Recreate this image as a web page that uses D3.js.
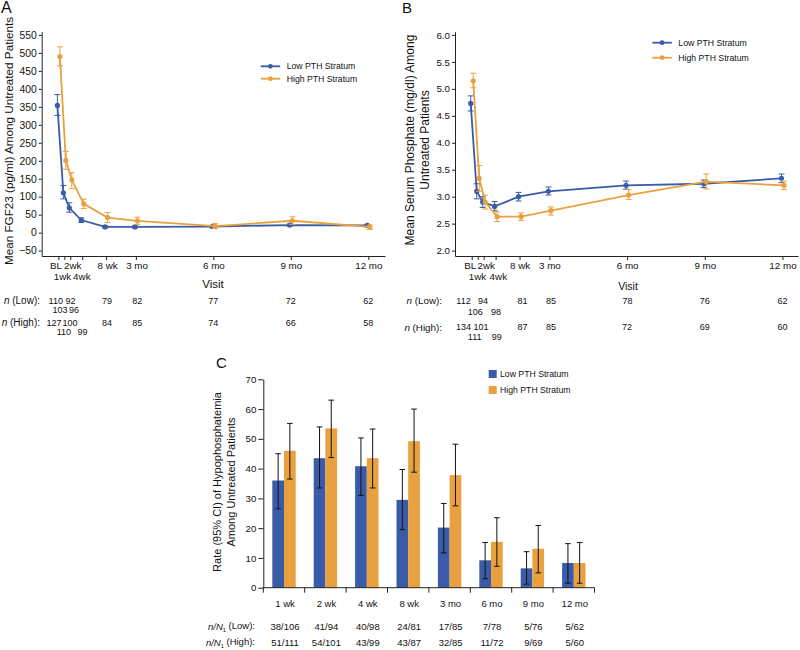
<!DOCTYPE html>
<html><head><meta charset="utf-8">
<script src="https://cdn.jsdelivr.net/npm/d3@7"></script>
<style>
body{margin:0;background:#fff}
text{font-family:"Liberation Sans",Arial,Helvetica,sans-serif;fill:#111}
</style>
</head><body>
<svg id="chart" width="800" height="650"></svg>
<script>
// ---------------- DATA ----------------
const visitWeeks  = [0, 1, 2, 4, 8, 13, 26, 39, 52];
const visitLabels = ["BL", "1wk", "2wk", "4wk", "8 wk", "3 mo", "6 mo", "9 mo", "12 mo"];
const seriesNames = ["Low PTH Stratum", "High PTH Stratum"];

const fgfLowMean   = [354, 111, 69, 35, 16, 16, 17, 21, 20];
const fgfLowLower  = [326, 94, 57, 28, 13, 13, 14, 18, 17];
const fgfLowUpper  = [384, 131, 83, 41, 19, 19, 20, 24, 23];
const fgfHighMean  = [490, 201, 147, 80, 42, 33, 18, 33, 16];
const fgfHighLower = [464, 176, 122, 67, 28, 23, 11, 23, 9];
const fgfHighUpper = [517, 226, 167, 93, 56, 43, 25, 44, 21];
const fgfNLow  = [110, 103, 92, 96, 79, 82, 77, 72, 62];
const fgfNHigh = [127, 110, 100, 99, 84, 85, 74, 66, 58];
const fgfYTicks = [-50, 0, 50, 100, 150, 200, 250, 300, 350, 400, 450, 500, 550];

const phosLowMean   = [4.73, 3.10, 2.90, 2.82, 3.00, 3.10, 3.21, 3.24, 3.34];
const phosLowLower  = [4.59, 2.96, 2.80, 2.74, 2.92, 3.03, 3.14, 3.17, 3.26];
const phosLowUpper  = [4.87, 3.24, 3.00, 2.91, 3.08, 3.18, 3.29, 3.31, 3.42];
const phosHighMean  = [5.15, 3.34, 2.90, 2.63, 2.63, 2.74, 3.03, 3.28, 3.21];
const phosHighLower = [5.02, 3.10, 2.77, 2.54, 2.56, 2.66, 2.95, 3.14, 3.13];
const phosHighUpper = [5.29, 3.58, 3.03, 2.72, 2.70, 2.81, 3.13, 3.42, 3.29];
const phosNLow  = [112, 106, 94, 98, 81, 85, 78, 76, 62];
const phosNHigh = [134, 111, 101, 99, 87, 85, 72, 69, 60];
const phosYTicks = [2.0, 2.5, 3.0, 3.5, 4.0, 4.5, 5.0, 5.5, 6.0];

const rateCategories = ["1 wk", "2 wk", "4 wk", "8 wk", "3 mo", "6 mo", "9 mo", "12 mo"];
const rateLow       = [36.0, 43.5, 40.8, 29.5, 20.2, 9.2, 6.5, 8.3];
const rateLowLower  = [26.5, 33.5, 31.0, 19.5, 11.7, 3.0, 1.2, 1.5];
const rateLowUpper  = [45.0, 54.0, 50.3, 39.7, 28.3, 15.2, 12.1, 14.8];
const rateHigh      = [46.0, 53.5, 43.5, 49.2, 37.8, 15.4, 13.1, 8.3];
const rateHighLower = [36.5, 43.7, 33.5, 38.8, 27.5, 7.2, 5.0, 1.5];
const rateHighUpper = [55.2, 63.0, 53.3, 60.0, 48.2, 23.5, 20.9, 15.2];
const fracLow  = ["38/106", "41/94", "40/98", "24/81", "17/85", "7/78", "5/76", "5/62"];
const fracHigh = ["51/111", "54/101", "43/99", "43/87", "32/85", "11/72", "9/69", "5/60"];
const rateYTicks = [0, 10, 20, 30, 40, 50, 60, 70];

// ---------------- STYLE ----------------
const BLUE = "#3a5ca8", ORANGE = "#e9a13f";
const FONT = '"Liberation Sans",Arial,Helvetica,sans-serif';
const svg = d3.select("#chart");

function nLabel(g, x, y, who, size, sub) {
  const t = g.append("text").attr("x", x).attr("y", y).attr("dy", "0.35em")
    .attr("text-anchor", "end").style("font-size", size + "px");
  if (sub) {
    t.append("tspan").style("font-style", "italic").text("n/N");
    t.append("tspan").style("font-size", (size * 0.6) + "px").attr("dy", "0.3em").text("1");
    t.append("tspan").attr("dy", "-0.3em").text(" (" + who + "):");
  } else {
    t.append("tspan").style("font-style", "italic").text("n");
    t.append("tspan").text(" (" + who + "):");
  }
}

function linePanel(cfg) {
  const g = svg.append("g");
  const x = d3.scaleLinear().domain(cfg.xDomain).range(cfg.xRange);
  const y = d3.scaleLinear().domain(cfg.yDomain).range(cfg.yRange);
  const axisY = cfg.yRange[0];

  const ya = g.append("g").attr("transform", `translate(${cfg.xRange[0]},0)`)
    .call(d3.axisLeft(y).tickValues(cfg.yTicks).tickFormat(cfg.yFormat).tickSize(3).tickPadding(2).tickSizeOuter(0));
  ya.selectAll("text").style("font-size", cfg.yTickFont + "px").style("font-family", FONT).attr("fill", "#111");
  ya.selectAll("line,path").attr("stroke", "#222");

  const xa = g.append("g").attr("transform", `translate(0,${axisY})`)
    .call(d3.axisBottom(x).tickValues(visitWeeks).tickFormat((d, i) => visitLabels[i]).tickSize(4).tickSizeOuter(0));
  xa.selectAll("line,path").attr("stroke", "#222");
  xa.selectAll("text").style("font-size", cfg.xTickFont + "px").style("font-family", FONT).attr("fill", "#111")
    .attr("dy", "0.35em")
    .attr("y", (d, i) => (i === 1 || i === 3) ? cfg.tickRow2 : cfg.tickRow1)
    .attr("dx", (d, i) => cfg.tickDx[i]);

  g.append("text").attr("x", cfg.visitX).attr("y", cfg.visitY).attr("dy", "0.35em")
    .attr("text-anchor", "middle").style("font-size", cfg.visitFont + "px").text("Visit");

  cfg.yLabel.forEach((line, k) => {
    g.append("text").attr("transform", `translate(${cfg.yLabelX[k]},${cfg.yLabelY}) rotate(-90)`)
      .attr("text-anchor", "middle").style("font-size", cfg.yLabelFont + "px").text(line);
  });

  g.append("text").attr("x", cfg.letterX).attr("y", cfg.letterY).style("font-size", cfg.letterFont + "px").text(cfg.letter);

  const series = [
    { mean: cfg.lowMean, lo: cfg.lowLower, hi: cfg.lowUpper, color: BLUE, off: -1 },
    { mean: cfg.highMean, lo: cfg.highLower, hi: cfg.highUpper, color: ORANGE, off: 1.5 }
  ];
  series.forEach(s => {
    const pts = visitWeeks.map((w, i) => ({ x: x(w) + s.off, m: s.mean[i], lo: s.lo[i], hi: s.hi[i] }));
    const eb = g.append("g").attr("stroke", s.color).attr("stroke-width", 1).attr("fill", "none");
    pts.forEach(p => {
      eb.append("line").attr("x1", p.x).attr("x2", p.x).attr("y1", y(p.lo)).attr("y2", y(p.hi));
      eb.append("line").attr("x1", p.x - 3).attr("x2", p.x + 3).attr("y1", y(p.lo)).attr("y2", y(p.lo));
      eb.append("line").attr("x1", p.x - 3).attr("x2", p.x + 3).attr("y1", y(p.hi)).attr("y2", y(p.hi));
    });
    g.append("path").datum(pts).attr("fill", "none").attr("stroke", s.color).attr("stroke-width", 1.8)
      .attr("d", d3.line().x(p => p.x).y(p => y(p.m)));
    g.selectAll(null).data(pts).enter().append("circle")
      .attr("cx", p => p.x).attr("cy", p => y(p.m)).attr("r", 2.6).attr("fill", s.color);
  });

  [BLUE, ORANGE].forEach((c, k) => {
    const ly = cfg.legendY[k];
    g.append("line").attr("x1", cfg.legendX).attr("x2", cfg.legendX + 19.5).attr("y1", ly).attr("y2", ly)
      .attr("stroke", c).attr("stroke-width", 1.8);
    g.append("circle").attr("cx", cfg.legendX + 9.7).attr("cy", ly).attr("r", 2.4).attr("fill", c);
    g.append("text").attr("x", cfg.legendX + 26).attr("y", ly).attr("dy", "0.35em")
      .style("font-size", "8.7px").text(seriesNames[k]);
  });

  nLabel(g, cfg.nLabelX, cfg.nRows[0], "Low", cfg.nLabFont, false);
  nLabel(g, cfg.nLabelX, cfg.nRows[2], "High", cfg.nLabFont, false);
  [[cfg.nLow, cfg.nRows[0], cfg.nRows[1], cfg.nLowDx], [cfg.nHigh, cfg.nRows[2], cfg.nRows[3], cfg.nHighDx]].forEach(([vals, r1, r2, dx]) => {
    g.selectAll(null).data(vals).enter().append("text")
      .attr("x", (d, i) => x(visitWeeks[i]) + dx[i])
      .attr("y", (d, i) => (i === 1 || i === 3) ? r2 : r1)
      .attr("dy", "0.35em").attr("text-anchor", "middle")
      .style("font-size", cfg.nFont + "px").text(d => d);
  });
}

// Panel A
linePanel({
  letter: "A", letterX: 1, letterY: 13, letterFont: 16,
  xDomain: [-2.8, 54.8], xRange: [41.7, 385],
  yDomain: [-65, 559], yRange: [256, 31.7], yTicks: fgfYTicks, yFormat: d3.format("d"),
  yTickFont: 10.3, xTickFont: 9.8, tickRow1: 10, tickRow2: 20.7, tickDx: [-3, -2.3, 2, -0.9, 1, 0.7, 0, 0, 0],
  visitX: 213, visitY: 283.5, visitFont: 11.5,
  yLabel: ["Mean FGF23 (pg/ml) Among Untreated Patients"], yLabelX: [13], yLabelY: 141, yLabelFont: 11.7,
  lowMean: fgfLowMean, lowLower: fgfLowLower, lowUpper: fgfLowUpper,
  highMean: fgfHighMean, highLower: fgfHighLower, highUpper: fgfHighUpper,
  legendX: 260.7, legendY: [66.3, 78.7],
  nLabelX: 40, nLabFont: 10, nFont: 9, nRows: [300.7, 310.2, 322.5, 331.8],
  nLow: fgfNLow, nHigh: fgfNHigh,
  nLowDx: [-2.6, -4.3, 0.3, -8.1, 1, 1.5, 0, 0, 0],
  nHighDx: [-4.3, -0.5, -0.2, 0.2, 1, 1.5, 0, 0, 0]
});

// Panel B
linePanel({
  letter: "B", letterX: 402, letterY: 13, letterFont: 15,
  xDomain: [-2.8, 54.6], xRange: [455, 798],
  yDomain: [1.9, 6.06], yRange: [256, 31.7], yTicks: phosYTicks, yFormat: d3.format(".1f"),
  yTickFont: 9.8, xTickFont: 9.8, tickRow1: 9.5, tickRow2: 20.7, tickDx: [-2, -0.7, 2, 2.2, 0, 0, 0, 0, 0],
  visitX: 628, visitY: 286, visitFont: 10.5,
  yLabel: ["Mean Serum Phosphate (mg/dl) Among", "Untreated Patients"], yLabelX: [414, 429], yLabelY: 140, yLabelFont: 12,
  lowMean: phosLowMean, lowLower: phosLowLower, lowUpper: phosLowUpper,
  highMean: phosHighMean, highLower: phosHighLower, highUpper: phosHighUpper,
  legendX: 652.3, legendY: [42.7, 57.7],
  nLabelX: 442, nLabFont: 9.8, nFont: 9, nRows: [300.7, 311.5, 327.3, 337.3],
  nLow: phosNLow, nHigh: phosNHigh,
  nLowDx: [-8.2, -2.4, -0.7, 0.4, 3, 1.5, 0.5, 0, 0],
  nHighDx: [-8.2, -3, -2.7, 1.1, 3, 1.5, 0, 0, 0]
});

// Panel C
(function () {
  const g = svg.append("g");
  const x0 = d3.scaleBand().domain(rateCategories).range([263.3, 594.5]).padding(0);
  const bw = x0.bandwidth();
  const x1 = d3.scaleBand().domain(["low", "high"]).range([bw * 0.2175, bw * 0.7825]).padding(0);
  const y = d3.scaleLinear().domain([0, 70]).range([587.7, 379.3]);

  const ya = g.append("g").attr("transform", "translate(263.3,0)")
    .call(d3.axisLeft(y).tickValues(rateYTicks).tickSize(5).tickPadding(2).tickSizeOuter(0));
  ya.selectAll("text").style("font-size", "9.7px").style("font-family", FONT).attr("fill", "#111");
  ya.selectAll("line,path").attr("stroke", "#222");

  const groups = [
    { key: "low", v: rateLow, lo: rateLowLower, hi: rateLowUpper, c: BLUE },
    { key: "high", v: rateHigh, lo: rateHighLower, hi: rateHighUpper, c: ORANGE }
  ];
  groups.forEach(s => {
    g.selectAll(null).data(rateCategories).enter().append("rect")
      .attr("x", (d) => x0(d) + x1(s.key)).attr("width", x1.bandwidth())
      .attr("y", (d, i) => y(s.v[i])).attr("height", (d, i) => y(0) - y(s.v[i]))
      .attr("fill", s.c);
  });
  groups.forEach(s => {
    const eb = g.append("g").attr("stroke", "#111").attr("stroke-width", 1);
    rateCategories.forEach((c, i) => {
      const cx = x0(c) + x1(s.key) + x1.bandwidth() / 2;
      eb.append("line").attr("x1", cx).attr("x2", cx).attr("y1", y(s.lo[i])).attr("y2", y(s.hi[i]));
      eb.append("line").attr("x1", cx - 2.8).attr("x2", cx + 2.8).attr("y1", y(s.lo[i])).attr("y2", y(s.lo[i]));
      eb.append("line").attr("x1", cx - 2.8).attr("x2", cx + 2.8).attr("y1", y(s.hi[i])).attr("y2", y(s.hi[i]));
    });
  });

  const xa = g.append("g").attr("stroke", "#222");
  xa.append("line").attr("x1", 263.3).attr("x2", 594.5).attr("y1", y(0)).attr("y2", y(0));
  const bounds = rateCategories.map(c => x0(c)).concat([x0.range()[1]]);
  bounds.forEach(b => xa.append("line").attr("x1", b).attr("x2", b).attr("y1", y(0)).attr("y2", y(0) + 5));
  g.selectAll(null).data(rateCategories).enter().append("text")
    .attr("x", d => x0(d) + bw / 2 + 1).attr("y", 604).attr("dy", "0.35em").attr("text-anchor", "middle")
    .style("font-size", "9.5px").text(d => d);

  ["Rate (95% CI) of Hypophosphatemia", "Among Untreated Patients"].forEach((line, k) => {
    g.append("text").attr("transform", `translate(${[220.5, 235][k]},482) rotate(-90)`)
      .attr("text-anchor", "middle").style("font-size", "11px").text(line);
  });
  g.append("text").attr("x", 216).attr("y", 368).style("font-size", "15px").text("C");

  [BLUE, ORANGE].forEach((c, k) => {
    const ly = [374, 390][k];
    g.append("rect").attr("x", 488.7).attr("y", ly - 4).attr("width", 8).attr("height", 8).attr("fill", c);
    g.append("text").attr("x", 500).attr("y", ly).attr("dy", "0.35em").style("font-size", "8.7px").text(seriesNames[k]);
  });

  nLabel(g, 255, 627, "Low", 9.5, true);
  nLabel(g, 255, 642.5, "High", 9.5, true);
  [[fracLow, 627], [fracHigh, 642.5]].forEach(([vals, ry]) => {
    g.selectAll(null).data(vals).enter().append("text")
      .attr("x", (d, i) => x0(rateCategories[i]) + bw / 2 + 1).attr("y", ry).attr("dy", "0.35em")
      .attr("text-anchor", "middle").style("font-size", "9.5px").text(d => d);
  });
})();
</script>
</body></html>
